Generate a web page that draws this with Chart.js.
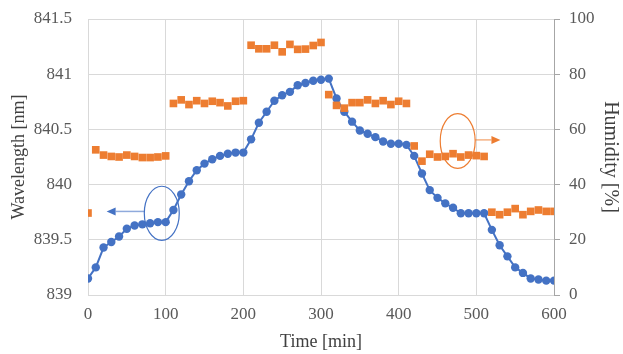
<!DOCTYPE html>
<html>
<head>
<meta charset="utf-8">
<script src="https://cdn.jsdelivr.net/npm/chart.js@4/dist/chart.umd.min.js"></script>
<style>
  html, body { margin: 0; padding: 0; background: #fff; }
  canvas { display: block; }
</style>
</head>
<body>
<canvas id="canvas" width="623" height="354"></canvas>
<script>
// time in minutes
var times = [0, 10, 20, 30, 40, 50, 60, 70, 80, 90,
    100, 110, 120, 130, 140, 150, 160, 170, 180, 190,
    200, 210, 220, 230, 240, 250, 260, 270, 280, 290,
    300, 310, 320, 330, 340, 350, 360, 370, 380, 390,
    400, 410, 420, 430, 440, 450, 460, 470, 480, 490,
    500, 510, 520, 530, 540, 550, 560, 570, 580, 590, 600];

// wavelength [nm], left axis
var wavelength = [839.15, 839.25, 839.43, 839.48, 839.53, 839.60, 839.63, 839.64, 839.65, 839.66,
    839.66, 839.77, 839.91, 840.03, 840.13, 840.19, 840.23, 840.26, 840.28, 840.29,
    840.29, 840.41, 840.56, 840.66, 840.76, 840.81, 840.84, 840.90, 840.92, 840.94,
    840.95, 840.96, 840.78, 840.66, 840.57, 840.49, 840.46, 840.43, 840.39, 840.37,
    840.37, 840.36, 840.26, 840.10, 839.95, 839.88, 839.83, 839.79, 839.74, 839.74,
    839.74, 839.74, 839.59, 839.45, 839.35, 839.25, 839.20, 839.15, 839.14, 839.13, 839.13];

// humidity [%], right axis
var humidity = [29.7, 52.6, 50.7, 50.2, 50.0, 50.7, 50.2, 49.8, 49.8, 50.0,
    50.4, 69.4, 70.7, 69.0, 70.4, 69.4, 70.2, 69.7, 68.5, 70.2,
    70.4, 90.5, 89.2, 89.2, 90.5, 88.1, 90.8, 89.0, 89.1, 90.4,
    91.5, 72.6, 68.7, 67.7, 69.7, 69.7, 70.7, 69.4, 70.4, 69.0,
    70.2, 69.4, 54.0, 48.5, 51.0, 50.0, 50.2, 51.2, 50.0, 50.7,
    50.5, 50.2, 30.0, 29.1, 30.0, 31.3, 29.1, 30.3, 30.8, 30.3, 30.3];

var xTicks = [0, 100, 200, 300, 400, 500, 600];
var wlTicks = [839, 839.5, 840, 840.5, 841, 841.5];
var humTicks = [0, 20, 40, 60, 80, 100];

var BLUE = '#4472C4';
var ORANGE = '#ED7D31';
var FONT = "'Liberation Serif', 'Times New Roman', serif";

function pairs(xs, ys) {
    return xs.map(function (t, i) { return { x: t, y: ys[i] }; });
}

function arrow(ctx, x0, y0, x1, y1, color, lineColor) {
    var ang = Math.atan2(y1 - y0, x1 - x0);
    var len = 9, half = 4;
    ctx.strokeStyle = lineColor;
    ctx.lineWidth = 1.5;
    ctx.beginPath();
    ctx.moveTo(x0, y0);
    ctx.lineTo(x1 - Math.cos(ang) * len, y1 - Math.sin(ang) * len);
    ctx.stroke();
    ctx.fillStyle = color;
    ctx.beginPath();
    ctx.moveTo(x1, y1);
    ctx.lineTo(x1 - Math.cos(ang) * len - Math.sin(ang) * half, y1 - Math.sin(ang) * len + Math.cos(ang) * half);
    ctx.lineTo(x1 - Math.cos(ang) * len + Math.sin(ang) * half, y1 - Math.sin(ang) * len - Math.cos(ang) * half);
    ctx.closePath();
    ctx.fill();
}

// ellipses, arrows and axis titles
var extras = {
    id: 'extras',
    afterDatasetsDraw: function (chart) {
        var ctx = chart.ctx;
        var area = chart.chartArea;
        var x = chart.scales.x, y = chart.scales.y, y2 = chart.scales.y2;
        ctx.save();

        // blue ellipse -> left axis
        var bx = x.getPixelForValue(95), by = y.getPixelForValue(839.74);
        var brx = x.getPixelForValue(95 + 22.5) - bx;
        var bry = by - y.getPixelForValue(839.74 + 0.245);
        ctx.strokeStyle = BLUE;
        ctx.lineWidth = 1.2;
        ctx.beginPath();
        ctx.ellipse(bx, by, brx, bry, 0, 0, Math.PI * 2);
        ctx.stroke();
        var ay = y.getPixelForValue(839.757);
        arrow(ctx, bx - brx, ay, x.getPixelForValue(24), ay, BLUE, 'rgba(68,114,196,0.6)');

        // orange ellipse -> right axis
        var ox = x.getPixelForValue(476), oy = y2.getPixelForValue(55.8);
        var orx = x.getPixelForValue(476 + 22.5) - ox;
        var ory = oy - y2.getPixelForValue(55.8 + 9.9);
        ctx.strokeStyle = ORANGE;
        ctx.lineWidth = 1.2;
        ctx.beginPath();
        ctx.ellipse(ox, oy, orx, ory, 0, 0, Math.PI * 2);
        ctx.stroke();
        var oay = y2.getPixelForValue(56.2);
        arrow(ctx, ox + orx, oay, x.getPixelForValue(531), oay, ORANGE, 'rgba(237,125,49,0.6)');

        // axis titles
        var midY = (area.top + area.bottom) / 2;
        ctx.fillStyle = '#404040';
        ctx.font = '18px ' + FONT;
        ctx.textAlign = 'center';
        ctx.textBaseline = 'middle';
        ctx.fillText('Time [min]', (area.left + area.right) / 2, 342);

        ctx.save();
        ctx.translate(19, midY);
        ctx.rotate(-Math.PI / 2);
        ctx.fillText('Wavelength [nm]', 0, 0);
        ctx.restore();

        ctx.save();
        ctx.font = '20px ' + FONT;
        ctx.translate(610, midY);
        ctx.rotate(Math.PI / 2);
        ctx.fillText('Humidity [%]', 0, 0);
        ctx.restore();

        ctx.restore();
    }
};

var ctx = document.getElementById('canvas').getContext('2d');

var myChart = new Chart(ctx, {
    type: 'line',
    data: {
        datasets: [
            {
                label: 'Wavelength',
                data: pairs(times, wavelength),
                yAxisID: 'y',
                borderColor: BLUE,
                backgroundColor: BLUE,
                borderWidth: 2,
                pointRadius: 4.2,
                pointBorderWidth: 0,
                pointStyle: 'circle',
                tension: 0,
                order: 2
            },
            {
                label: 'Humidity',
                data: pairs(times, humidity),
                yAxisID: 'y2',
                showLine: false,
                borderColor: ORANGE,
                backgroundColor: ORANGE,
                pointRadius: 5.4,
                pointBorderWidth: 0,
                pointStyle: 'rect',
                order: 1
            }
        ]
    },
    options: {
        responsive: false,
        animation: false,
        devicePixelRatio: 1,
        layout: { padding: { top: 19, left: 0, right: 0, bottom: 0 } },
        plugins: {
            legend: { display: false },
            tooltip: { enabled: false }
        },
        scales: {
            x: {
                type: 'linear',
                min: 0,
                max: 600,
                afterBuildTicks: function (scale) {
                    scale.ticks = xTicks.map(function (v) { return { value: v }; });
                },
                afterFit: function (scale) {
                    scale.height = 59;
                    scale.paddingLeft = 0;
                    scale.paddingRight = 0;
                },
                grid: { color: '#d9d9d9', drawTicks: false },
                border: { color: '#d9d9d9' },
                ticks: {
                    color: '#595959',
                    font: { family: FONT, size: 17 },
                    padding: 9,
                    maxRotation: 0
                }
            },
            y: {
                position: 'left',
                min: 839,
                max: 841.5,
                afterBuildTicks: function (scale) {
                    scale.ticks = wlTicks.map(function (v) { return { value: v }; });
                },
                afterFit: function (scale) {
                    scale.width = 88;
                    scale.paddingTop = 0;
                    scale.paddingBottom = 0;
                },
                grid: { color: '#d9d9d9', drawTicks: false },
                border: { color: '#d9d9d9' },
                ticks: {
                    color: '#595959',
                    font: { family: FONT, size: 17 },
                    padding: 16,
                    callback: function (v) { return String(v); }
                }
            },
            y2: {
                position: 'right',
                min: 0,
                max: 100,
                afterBuildTicks: function (scale) {
                    scale.ticks = humTicks.map(function (v) { return { value: v }; });
                },
                afterFit: function (scale) {
                    scale.width = 69;
                    scale.paddingTop = 0;
                    scale.paddingBottom = 0;
                },
                grid: { drawOnChartArea: false, color: '#a6a6a6', tickLength: 6 },
                border: { color: '#a6a6a6' },
                ticks: {
                    color: '#595959',
                    font: { family: FONT, size: 17 },
                    padding: 9,
                    callback: function (v) { return String(v); }
                }
            }
        }
    },
    plugins: [extras]
});
</script>
</body>
</html>
